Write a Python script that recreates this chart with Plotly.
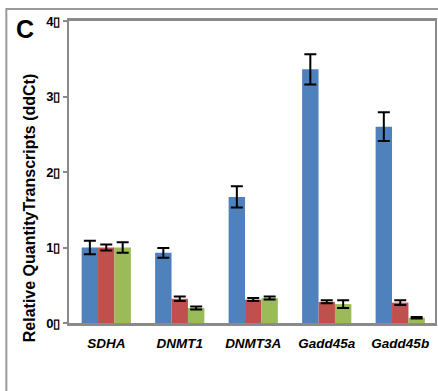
import plotly.graph_objects as go

genes = ["SDHA", "DNMT1", "DNMT3A", "Gadd45a", "Gadd45b"]
blue_vals = [1.00, 0.93, 1.67, 3.36, 2.60]
blue_err = [0.09, 0.065, 0.14, 0.20, 0.19]
red_vals = [1.00, 0.32, 0.31, 0.28, 0.27]
red_err = [0.04, 0.03, 0.02, 0.02, 0.03]
green_vals = [1.00, 0.20, 0.33, 0.25, 0.07]
green_err = [0.07, 0.02, 0.02, 0.05, 0.01]
y_ticks = [0, 1, 2, 3, 4]
y_tick_labels = ["0▯", "1▯", "2▯", "3▯", "4▯"]

W, H = 438, 391
L, R, T, B = 69, 1, 21, 68
pw, ph = W - L - R, H - T - B

fig = go.Figure()
for vals, errs, col in [(blue_vals, blue_err, "#4f81bd"),
                        (red_vals, red_err, "#c0504d"),
                        (green_vals, green_err, "#9bbb59")]:
    fig.add_trace(go.Bar(
        x=genes, y=vals, marker=dict(color=col, line=dict(width=0)),
        error_y=dict(type="data", array=errs, color="black", thickness=2, width=6),
        showlegend=False))

def px_x(px):
    return (px - L) / pw

def px_y(py):
    return (H - B - py) / ph

fig.update_layout(
    width=W, height=H,
    margin=dict(l=L, r=R, t=T, b=B),
    paper_bgcolor="white", plot_bgcolor="white",
    barmode="group", bargap=0.33, bargroupgap=0,
    font=dict(family="Liberation Sans, Arial", color="black"),
    xaxis=dict(range=[-0.507, 4.473], showline=True, linecolor="#8a8a8a", linewidth=2.5,
               mirror=True, ticks="", showgrid=False, ticklabelstandoff=6,
               tickfont=dict(size=13.5, family="Liberation Sans", weight="bold", style="italic")),
    yaxis=dict(range=[0, 4], tickvals=y_ticks, ticktext=y_tick_labels, showline=True,
               linecolor="#8a8a8a", linewidth=2, mirror=True, ticks="outside",
               ticklen=4, tickwidth=1.5, tickcolor="#8a8a8a", showgrid=False, zeroline=False,
               tickfont=dict(size=13, weight="bold")),
    shapes=[dict(type="rect", xref="paper", yref="paper",
                 x0=px_x(6), x1=px_x(460), y0=px_y(420), y1=px_y(9),
                 line=dict(color="#9a9a9a", width=2), layer="below")],
    annotations=[
        dict(text="<b>C</b>", xref="paper", yref="paper",
             x=px_x(25), y=px_y(29), xanchor="center", yanchor="middle",
             showarrow=False, font=dict(size=25, color="black")),
        dict(text="<b>Relative QuantityTranscripts (ddCt)</b>", xref="paper", yref="paper",
             x=px_x(30), y=px_y(208), xanchor="center", yanchor="middle", textangle=-90,
             showarrow=False, font=dict(size=16, color="black")),
    ],
)

fig.write_html("out.html")
